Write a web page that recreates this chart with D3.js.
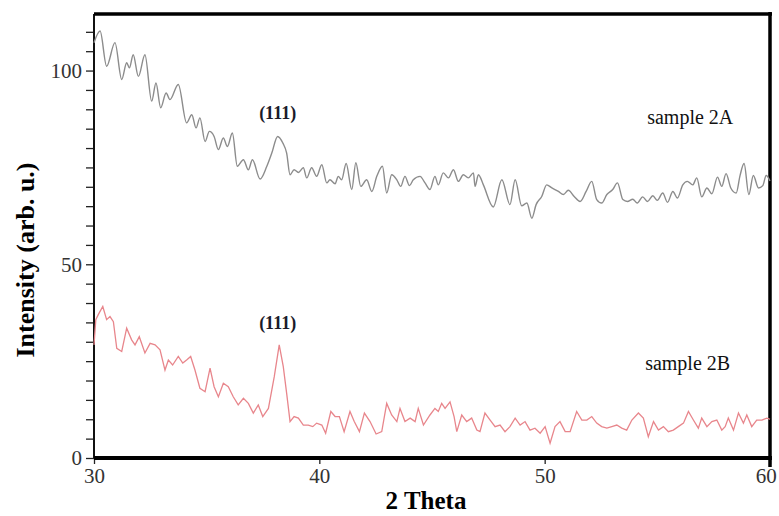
<!DOCTYPE html>
<html>
<head>
<meta charset="utf-8">
<script src="https://cdn.jsdelivr.net/npm/d3@7"></script>
<style>
  body { margin: 0; background: #fff; }
  svg { display: block; font-family: "Liberation Serif", "Times New Roman", serif; }
</style>
</head>
<body>
<div id="main"></div>
<script>
// 2 theta / intensity pairs
const sample2A = [
  [30.00, 107.2], [30.27, 110.2], [30.56, 101.1], [30.93, 107.2], [31.23, 97.7], [31.45, 102.0],
  [31.57, 100.7], [31.74, 104.1], [31.97, 98.5], [32.26, 104.1], [32.56, 92.1], [32.75, 96.8],
  [32.96, 90.4], [33.20, 94.2], [33.37, 92.5], [33.74, 96.4], [34.11, 86.5], [34.34, 88.6],
  [34.53, 85.2], [34.70, 87.8], [34.93, 81.7], [35.12, 84.3], [35.33, 83.0], [35.52, 79.6],
  [35.74, 82.6], [35.92, 80.4], [36.14, 83.9], [36.36, 75.3], [36.63, 77.0], [36.85, 74.4],
  [37.03, 77.0], [37.37, 72.0], [37.67, 75.3], [37.89, 78.7], [38.15, 83.0], [38.38, 81.3],
  [38.55, 78.7], [38.70, 73.1], [38.88, 74.4], [39.07, 73.7], [39.29, 74.9], [39.44, 72.3],
  [39.66, 74.9], [39.88, 72.7], [40.11, 75.7], [40.33, 71.0], [40.47, 71.8], [40.70, 70.8],
  [40.84, 72.7], [40.99, 71.8], [41.19, 76.0], [41.44, 69.3], [41.62, 76.2], [41.84, 70.1],
  [42.10, 71.8], [42.33, 68.8], [42.55, 72.7], [42.80, 75.3], [42.99, 68.4], [43.21, 73.1],
  [43.44, 71.8], [43.61, 70.1], [43.80, 72.7], [44.00, 70.3], [44.17, 71.8], [44.47, 72.7],
  [44.69, 71.0], [44.91, 69.3], [45.13, 72.7], [45.28, 70.5], [45.50, 73.6], [45.73, 72.3],
  [45.95, 74.4], [46.17, 71.4], [46.39, 73.1], [46.61, 72.3], [46.84, 73.6], [46.91, 70.1],
  [47.06, 73.1], [47.28, 70.5], [47.72, 64.8], [48.10, 71.8], [48.46, 65.4], [48.69, 71.8],
  [48.98, 65.1], [49.21, 65.8], [49.43, 61.9], [49.62, 65.4], [49.87, 67.5], [50.09, 70.5],
  [50.32, 69.7], [50.61, 68.8], [50.83, 68.0], [51.05, 69.1], [51.31, 67.5], [51.57, 66.2],
  [51.84, 68.8], [52.09, 71.4], [52.31, 66.7], [52.53, 65.8], [52.76, 68.0], [53.02, 69.3],
  [53.23, 71.0], [53.47, 66.7], [53.67, 66.2], [53.91, 66.8], [54.11, 65.8], [54.35, 67.4],
  [54.56, 66.2], [54.80, 67.7], [55.00, 66.5], [55.24, 68.4], [55.45, 66.0], [55.69, 68.8],
  [55.89, 67.1], [56.13, 70.5], [56.33, 71.4], [56.57, 70.5], [56.75, 72.3], [56.97, 67.4],
  [57.20, 69.7], [57.42, 68.2], [57.67, 72.5], [57.86, 70.1], [58.05, 73.4], [58.26, 69.7],
  [58.50, 68.4], [58.67, 72.9], [58.85, 76.0], [59.06, 68.0], [59.26, 72.9], [59.49, 69.7],
  [59.68, 70.3], [59.83, 72.9], [60.00, 71.5]
];

const sample2B = [
  [30.00, 29.2], [30.08, 35.7], [30.19, 37.0], [30.39, 39.1], [30.56, 35.7], [30.71, 36.5],
  [30.86, 35.2], [31.01, 28.3], [31.23, 27.5], [31.45, 33.5], [31.67, 30.5], [31.82, 29.2],
  [32.01, 31.3], [32.26, 27.1], [32.49, 29.6], [32.71, 29.2], [32.93, 27.9], [33.15, 22.7],
  [33.30, 25.3], [33.49, 24.0], [33.74, 26.2], [33.94, 24.5], [34.11, 25.3], [34.29, 26.2],
  [34.48, 22.7], [34.70, 18.0], [34.93, 17.1], [35.15, 23.2], [35.33, 18.4], [35.52, 15.8],
  [35.74, 19.3], [35.96, 18.4], [36.18, 15.8], [36.40, 13.7], [36.63, 15.4], [36.85, 14.1],
  [37.07, 11.6], [37.29, 13.7], [37.49, 10.7], [37.74, 12.8], [38.00, 21.0], [38.22, 29.2],
  [38.40, 23.6], [38.55, 16.7], [38.70, 9.4], [38.88, 10.7], [39.07, 10.3], [39.29, 8.5],
  [39.51, 8.5], [39.71, 8.1], [39.88, 9.0], [40.11, 8.5], [40.28, 6.4], [40.51, 12.0],
  [40.70, 10.7], [40.89, 10.7], [41.10, 6.8], [41.36, 12.0], [41.55, 9.4], [41.78, 6.8],
  [42.00, 11.6], [42.25, 9.4], [42.52, 6.2], [42.77, 6.8], [42.99, 14.1], [43.21, 11.1],
  [43.44, 9.4], [43.58, 12.8], [43.80, 9.4], [44.03, 10.3], [44.25, 9.4], [44.39, 12.8],
  [44.62, 8.5], [44.91, 11.1], [45.13, 12.8], [45.28, 12.0], [45.43, 14.1], [45.58, 12.8],
  [45.80, 14.5], [45.98, 10.7], [46.10, 6.8], [46.32, 11.1], [46.54, 9.4], [46.76, 10.3],
  [46.99, 7.2], [47.13, 6.8], [47.35, 11.6], [47.58, 9.8], [47.80, 8.1], [48.02, 8.5],
  [48.24, 6.8], [48.46, 8.1], [48.69, 10.3], [48.91, 8.5], [49.13, 9.4], [49.35, 7.2],
  [49.57, 7.7], [49.80, 6.4], [50.02, 8.1], [50.24, 3.8], [50.46, 8.1], [50.68, 9.4],
  [50.91, 6.8], [51.13, 6.8], [51.42, 12.0], [51.65, 9.8], [51.87, 9.8], [52.09, 10.7],
  [52.31, 9.0], [52.53, 8.1], [52.76, 7.7], [52.98, 8.1], [53.20, 8.5], [53.42, 7.7],
  [53.64, 7.2], [53.87, 9.8], [54.16, 11.6], [54.38, 10.3], [54.60, 5.5], [54.83, 9.4],
  [55.05, 7.2], [55.27, 8.1], [55.49, 6.8], [55.71, 7.2], [55.93, 8.1], [56.16, 9.0],
  [56.38, 12.0], [56.60, 9.8], [56.82, 7.7], [56.97, 10.3], [57.20, 8.1], [57.42, 9.4],
  [57.64, 9.8], [57.86, 7.2], [58.01, 8.1], [58.15, 10.3], [58.38, 7.2], [58.60, 11.6],
  [58.82, 9.0], [58.97, 11.1], [59.19, 8.1], [59.41, 9.8], [59.64, 9.8], [59.86, 10.3],
  [60.00, 10.0]
];

const xTicks = [30, 40, 50, 60];
const yMajorTicks = [0, 50, 100];
const yMinorTicks = d3.range(0, 115, 5);

// annotations: [text, 2theta, intensity]
const peakLabels = [['(111)', 38.15, 87.5], ['(111)', 38.15, 33.3]];
const sampleLabels = [['sample 2A', 54.55, 86.2], ['sample 2B', 54.46, 22.7]];

function main() {
  const width = 779;
  const height = 516;
  const left = 94;
  const right = 770;
  const top = 14;
  const bottom = 458;

  const xScale = d3.scaleLinear()
    .domain([30, 60])
    .range([left, right]);

  const yScale = d3.scaleLinear()
    .domain([0, 114.6])
    .range([bottom, top]);

  const svg = d3.select('#main')
    .append('svg')
    .attr('width', width)
    .attr('height', height);

  // left axis: minor ticks every 5, labels on 0 / 50 / 100
  const yAxis = d3.axisLeft(yScale)
    .tickValues(yMinorTicks)
    .tickSize(8)
    .tickPadding(4)
    .tickFormat(d => (yMajorTicks.includes(d) ? d : ''));

  const gy = svg.append('g')
    .attr('transform', `translate(${left}, 0)`)
    .call(yAxis);
  gy.select('.domain').remove();
  gy.selectAll('line').attr('stroke', '#222').attr('stroke-width', 1.3);
  gy.selectAll('text')
    .attr('fill', '#333')
    .style('font-size', '21px')
    .style('font-family', '"Liberation Serif", serif');

  svg.append('line')
    .attr('x1', left).attr('x2', left)
    .attr('y1', top).attr('y2', bottom)
    .attr('stroke', '#111')
    .attr('stroke-width', 2);

  const xAxis = d3.axisBottom(xScale)
    .tickValues(xTicks)
    .tickSize(6)
    .tickPadding(4)
    .tickFormat(d3.format('d'));

  const gx = svg.append('g')
    .attr('transform', `translate(0, ${bottom})`)
    .call(xAxis);
  gx.select('.domain').remove();
  gx.selectAll('line').attr('stroke', '#222').attr('stroke-width', 1.3);
  gx.selectAll('text')
    .attr('fill', '#333')
    .style('font-size', '21px')
    .style('font-family', '"Liberation Serif", serif')
    .attr('dx', d => (d === 60 ? '-0.2em' : 0));

  // frame
  svg.append('line')
    .attr('x1', left).attr('x2', right + 2)
    .attr('y1', bottom).attr('y2', bottom)
    .attr('stroke', '#000').attr('stroke-width', 4);
  svg.append('line')
    .attr('x1', left).attr('x2', right + 2)
    .attr('y1', top).attr('y2', top)
    .attr('stroke', '#000').attr('stroke-width', 3.5);
  svg.append('line')
    .attr('x1', right).attr('x2', right)
    .attr('y1', top - 2).attr('y2', bottom + 9)
    .attr('stroke', '#000').attr('stroke-width', 3.5);

  const line = d3.line()
    .x(d => xScale(d[0]))
    .y(d => yScale(d[1]));

  svg.append('path')
    .datum(sample2A)
    .attr('d', line.curve(d3.curveMonotoneX))
    .attr('fill', 'none')
    .attr('stroke', '#8c8c8c')
    .attr('stroke-width', 1.4);

  svg.append('path')
    .datum(sample2B)
    .attr('d', line.curve(d3.curveLinear))
    .attr('fill', 'none')
    .attr('stroke', '#e8868c')
    .attr('stroke-width', 1.3);

  svg.selectAll('.peak')
    .data(peakLabels)
    .enter()
    .append('text')
    .attr('x', d => xScale(d[1]))
    .attr('y', d => yScale(d[2]))
    .style('font-size', '18px')
    .style('font-weight', 'bold')
    .style('text-anchor', 'middle')
    .attr('fill', '#1a1a2a')
    .text(d => d[0]);

  svg.selectAll('.sample')
    .data(sampleLabels)
    .enter()
    .append('text')
    .attr('x', d => xScale(d[1]))
    .attr('y', d => yScale(d[2]))
    .style('font-size', '20px')
    .attr('fill', '#111')
    .text(d => d[0]);

  svg.append('text')
    .attr('transform', 'rotate(-90)')
    .attr('x', -260)
    .attr('y', 34)
    .style('font-size', '26px')
    .style('font-weight', 'bold')
    .style('text-anchor', 'middle')
    .text('Intensity (arb. u.)');

  svg.append('text')
    .attr('x', 426)
    .attr('y', 509)
    .style('font-size', '25px')
    .style('font-weight', 'bold')
    .style('text-anchor', 'middle')
    .text('2 Theta');
}

document.addEventListener('DOMContentLoaded', main);
</script>
</body>
</html>
